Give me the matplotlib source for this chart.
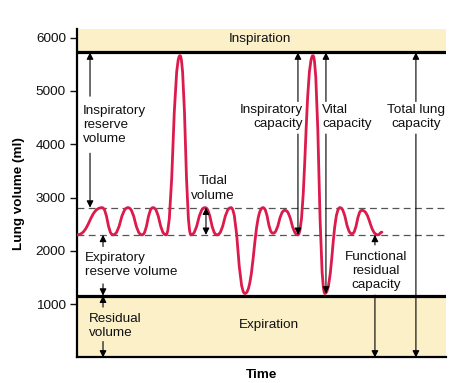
import matplotlib
matplotlib.use("Agg")
import matplotlib.pyplot as plt
from matplotlib.path import Path
from matplotlib.patches import PathPatch

plt.rcParams['font.family'] = ['Liberation Sans', 'DejaVu Sans']

# spirogram extrema (time in arbitrary units, volume in ml)
trace_t = [0, 25, 36, 51, 65, 76, 89, 103, 114, 128, 140, 154, 168, 186, 196,
           208, 221, 236, 248, 263, 275, 285, 301, 305]
trace_v = [2300, 2810, 2300, 2810, 2300, 2810, 2300, 5660, 2300, 2810, 2300,
           2810, 1200, 2810, 2330, 2760, 2300, 5660, 1200, 2810, 2320, 2760,
           2300, 2350]

top_level = 5720      # max inspiration
bottom_level = 1160   # residual volume
tidal_top = 2810
tidal_bottom = 2300
y_max = 6160
t_max = 369

yticks = [1000, 2000, 3000, 4000, 5000, 6000]

red = '#DC1A4C'
band = '#FBF0C8'
ink = '#111111'

fig = plt.figure(figsize=(4.64, 3.83), dpi=100)
ax = fig.add_axes([0.166, 0.0666, 0.795, 0.8577])
ax.set_xlim(0, t_max)
ax.set_ylim(0, y_max)

# bands
ax.axhspan(top_level, y_max, color=band, zorder=0, lw=0)
ax.axhspan(0, bottom_level, color=band, zorder=0, lw=0)
ax.axhline(top_level, color='black', lw=2.3, zorder=3)
ax.axhline(bottom_level, color='black', lw=2.3, zorder=3)
ax.axhline(tidal_top, color='#555555', lw=0.9, ls=(0, (5.5, 3.5)), zorder=1)
ax.axhline(tidal_bottom, color='#555555', lw=0.9, ls=(0, (5.5, 3.5)), zorder=1)

# smooth trace through the extrema
verts = [(trace_t[0], trace_v[0])]
codes = [Path.MOVETO]
for i in range(len(trace_t) - 1):
    t0, v0, t1, v1 = trace_t[i], trace_v[i], trace_t[i + 1], trace_v[i + 1]
    d = (t1 - t0) * 0.5
    verts += [(t0 + d, v0), (t1 - d, v1), (t1, v1)]
    codes += [Path.CURVE4] * 3
ax.add_patch(PathPatch(Path(verts, codes), fill=False, edgecolor=red,
                       lw=2.0, capstyle='round', zorder=4))


def arrow(x, y0, y1, both=False):
    style = '<|-|>' if both else '-|>'
    ax.annotate('', xy=(x, y1), xytext=(x, y0),
                arrowprops=dict(arrowstyle=style, color='black', lw=0.8,
                                mutation_scale=10, shrinkA=0, shrinkB=0),
                zorder=5)


fs = 9.7
kw = dict(fontsize=fs, color=ink, linespacing=1.25, va='center')

ax.text(183, 5970, 'Inspiration', ha='center', **kw)
ax.text(192, 610, 'Expiration', ha='center', **kw)

ax.text(6, 4360, 'Inspiratory\nreserve\nvolume', ha='left', **kw)
arrow(13, 4900, top_level)
arrow(13, 3830, tidal_top)

ax.text(136, 3170, 'Tidal\nvolume', ha='center', **kw)
arrow(129, tidal_bottom, tidal_top, both=True)

ax.text(8, 1735, 'Expiratory\nreserve volume', ha='left', **kw)
arrow(26, 2080, tidal_bottom)
arrow(26, 1380, bottom_level)

ax.text(12, 590, 'Residual\nvolume', ha='left', **kw)
arrow(26, 945, bottom_level)
arrow(26, 300, 0)

ax.text(226, 4510, 'Inspiratory\ncapacity', ha='right', **kw)
arrow(221, 4800, top_level)
arrow(221, 4190, tidal_bottom)

ax.text(245, 4510, 'Vital\ncapacity', ha='left', **kw)
arrow(249, 4800, top_level)
arrow(249, 4190, 1200)

ax.text(339, 4510, 'Total lung\ncapacity', ha='center', **kw)
arrow(339, 4800, top_level)
arrow(339, 4190, 0)

ax.text(299, 1620, 'Functional\nresidual\ncapacity', ha='center', **kw)
arrow(298, 2110, tidal_bottom)
arrow(298, 1170, 0)

# axes styling
for s in ['top', 'right']:
    ax.spines[s].set_visible(False)
ax.spines['left'].set_linewidth(1.6)
ax.spines['bottom'].set_linewidth(1.6)
ax.set_xticks([])
ax.set_yticks(yticks)
ax.set_yticklabels([str(v) for v in yticks])
ax.tick_params(axis='y', length=5, width=1, labelsize=fs, colors=ink, pad=3)
ax.set_ylabel('Lung volume (ml)', fontsize=fs, fontweight='bold', labelpad=8)
ax.set_xlabel('Time', fontsize=fs, fontweight='bold', labelpad=8)

fig.savefig('out.png', dpi=100)
